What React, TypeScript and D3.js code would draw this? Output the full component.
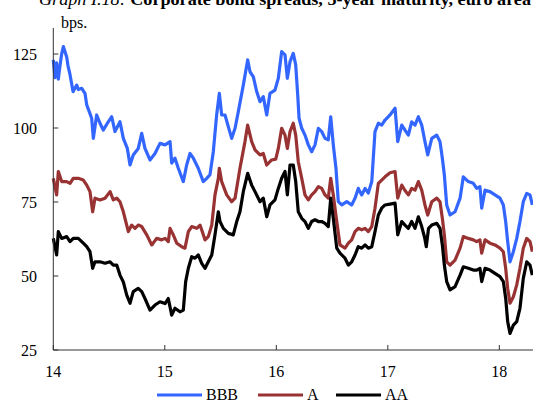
import React from 'react';
import * as d3 from 'd3';

const xTicks = [14, 15, 16, 17, 18];
const yTicks = [25, 50, 75, 100, 125];
const seriesNames = ['BBB', 'A', 'AA'];

const bbb: [number, number][] = [
  [14.0, 123], [14.015, 117], [14.03, 122], [14.045, 116.5], [14.06, 121], [14.075, 125], [14.09, 127.5],
  [14.12, 124], [14.132, 121], [14.15, 118], [14.177, 112.3], [14.21, 114.5], [14.224, 113], [14.255, 113.4],
  [14.284, 111.7], [14.3, 107.8], [14.344, 103.3], [14.359, 96.5], [14.389, 104.4], [14.419, 101.6],
  [14.448, 99.3], [14.493, 102.1], [14.524, 103.8], [14.553, 98.8], [14.598, 102.1], [14.628, 96.5],
  [14.664, 93.1], [14.688, 87.5], [14.717, 90.9], [14.762, 93.1], [14.793, 98.2], [14.822, 93.1],
  [14.867, 89.2], [14.912, 91.4], [14.957, 94.8], [15.002, 94.3], [15.047, 95.4], [15.062, 88.1],
  [15.091, 89.8], [15.121, 86.4], [15.166, 81.9], [15.196, 87.5], [15.226, 91.4], [15.256, 89.8],
  [15.3, 86.4], [15.345, 81.9], [15.376, 83.0], [15.405, 84.2], [15.435, 92], [15.465, 104.4],
  [15.489, 111.7], [15.51, 104.4], [15.54, 104.4], [15.57, 100.4], [15.6, 96.5], [15.63, 99.9],
  [15.659, 105.5], [15.704, 114.5], [15.743, 123], [15.764, 119], [15.794, 117.3], [15.824, 112.3],
  [15.854, 108.9], [15.883, 110.6], [15.914, 104.4], [15.943, 111.7], [15.988, 112.8], [16.018, 116.8],
  [16.048, 125.8], [16.078, 124.7], [16.099, 116.8], [16.123, 122.4], [16.152, 125.2], [16.174, 121.3],
  [16.192, 111.1], [16.204, 103.3], [16.228, 99.9], [16.257, 97.6], [16.287, 94.3], [16.317, 92],
  [16.347, 94.3], [16.377, 99.9], [16.407, 98.8], [16.437, 96.5], [16.466, 96], [16.488, 103.8],
  [16.511, 94.3], [16.535, 86.4], [16.556, 75.1], [16.587, 74], [16.632, 75.1], [16.676, 74],
  [16.706, 76.3], [16.735, 79.6], [16.766, 77.4], [16.796, 79.6], [16.825, 78], [16.856, 81.9],
  [16.885, 98.8], [16.915, 101.6], [16.945, 101], [16.975, 102.7], [17.02, 104.4], [17.065, 106.7],
  [17.089, 95.4], [17.125, 101], [17.154, 99.3], [17.184, 97.6], [17.214, 102.1], [17.244, 101],
  [17.274, 103.8], [17.304, 101], [17.333, 95.4], [17.358, 90.9], [17.394, 96.5], [17.439, 97.6],
  [17.468, 95.4], [17.489, 89.8], [17.507, 84.1], [17.528, 74], [17.558, 70.6], [17.603, 71.7],
  [17.648, 76.3], [17.677, 83.5], [17.722, 81.9], [17.767, 81.3], [17.797, 79.6], [17.826, 80.2],
  [17.842, 72.9], [17.872, 79], [17.916, 78.5], [17.961, 77.4], [18.006, 76.3], [18.036, 74],
  [18.057, 68.4], [18.075, 61.6], [18.096, 54.8], [18.126, 58.2], [18.156, 62.7], [18.185, 68.4],
  [18.215, 75.1], [18.246, 77.9], [18.275, 77.4], [18.296, 74],
];

const singleA: [number, number][] = [
  [14.0, 83], [14.03, 77.4], [14.045, 85.3], [14.075, 81.9], [14.12, 81.9], [14.15, 81.3], [14.179, 83],
  [14.224, 83], [14.269, 82.4], [14.3, 80.7], [14.329, 78.5], [14.353, 71.7], [14.374, 76.3],
  [14.419, 75.7], [14.464, 76.3], [14.509, 78.5], [14.538, 75.7], [14.569, 76.3], [14.598, 75.1],
  [14.628, 71.7], [14.673, 65], [14.703, 67.2], [14.733, 66.1], [14.762, 67.2], [14.793, 66.7],
  [14.838, 63.9], [14.883, 60.5], [14.927, 62.7], [14.972, 62.2], [15.002, 62.7], [15.031, 61.6],
  [15.047, 66.1], [15.076, 63.9], [15.107, 61.1], [15.152, 59.9], [15.181, 59.4], [15.211, 65],
  [15.241, 66.7], [15.286, 66.1], [15.316, 67.2], [15.361, 62.2], [15.39, 63.3], [15.421, 67.2],
  [15.45, 77.4], [15.48, 83], [15.489, 86.4], [15.51, 81.9], [15.555, 77.4], [15.6, 75.1],
  [15.63, 76.3], [15.674, 86.4], [15.719, 95.4], [15.743, 101], [15.779, 95.4], [15.809, 92.6],
  [15.854, 90.9], [15.883, 91.4], [15.914, 87.5], [15.958, 89.2], [15.995, 89.5], [16.018, 93.1],
  [16.048, 99.9], [16.078, 97.6], [16.099, 93.1], [16.123, 98.8], [16.152, 101.6], [16.174, 97.6],
  [16.197, 88.6], [16.228, 83], [16.257, 77.4], [16.287, 75.7], [16.317, 77.4], [16.347, 78.5],
  [16.377, 80.2], [16.407, 79.6], [16.437, 77.4], [16.466, 76.3], [16.488, 83], [16.511, 77.4],
  [16.542, 68.4], [16.571, 60.5], [16.616, 59.4], [16.646, 61.1], [16.676, 62.2], [16.706, 65],
  [16.735, 66.1], [16.766, 65.6], [16.796, 66.1], [16.825, 65], [16.856, 66.7], [16.885, 72.9],
  [16.915, 81.3], [16.945, 82.4], [16.975, 83.5], [17.02, 84.9], [17.065, 85.3], [17.089, 76.3],
  [17.125, 80.7], [17.154, 78.9], [17.184, 77.4], [17.214, 79.6], [17.244, 79], [17.274, 81.9],
  [17.304, 79], [17.333, 74], [17.358, 70.6], [17.394, 75.1], [17.439, 76.3], [17.468, 75.1],
  [17.489, 69.5], [17.507, 63.9], [17.528, 54.8], [17.558, 53.7], [17.603, 55.4], [17.648, 59.4],
  [17.677, 63.3], [17.722, 62.7], [17.767, 62.2], [17.797, 61.6], [17.826, 62.2], [17.842, 57.7],
  [17.872, 62.2], [17.916, 61.1], [17.961, 60.5], [18.006, 59.4], [18.036, 58.2], [18.057, 52.6],
  [18.075, 45.8], [18.096, 40.8], [18.126, 43], [18.156, 47], [18.185, 52.6], [18.215, 59.4],
  [18.246, 62.7], [18.275, 61.6], [18.296, 58.2],
];

const doubleA: [number, number][] = [
  [14.0, 62.7], [14.03, 57.1], [14.045, 65], [14.075, 62.7], [14.12, 63.3], [14.15, 61.6], [14.179, 62.7],
  [14.224, 62.7], [14.269, 61.1], [14.3, 59.9], [14.329, 58.2], [14.353, 52.6], [14.374, 54.8],
  [14.419, 54.8], [14.464, 54.3], [14.509, 54.8], [14.538, 53.7], [14.569, 53.7], [14.598, 50.3],
  [14.628, 48], [14.658, 43.6], [14.688, 40.8], [14.717, 44.7], [14.762, 45.8], [14.793, 44.7],
  [14.822, 42.4], [14.867, 38.5], [14.912, 40.2], [14.957, 41.3], [15.002, 40.7], [15.031, 42.4],
  [15.062, 36.8], [15.091, 39.1], [15.136, 37.9], [15.166, 38.5], [15.187, 48.1], [15.211, 52.6],
  [15.241, 56.5], [15.271, 56], [15.3, 57.1], [15.331, 54.3], [15.361, 52.6], [15.39, 54.8],
  [15.421, 57.1], [15.45, 63.9], [15.48, 71.7], [15.495, 68.4], [15.525, 66.1], [15.57, 64.4],
  [15.614, 63.9], [15.645, 68.4], [15.674, 71.7], [15.704, 78.5], [15.743, 84.7], [15.779, 80.7],
  [15.809, 78.5], [15.854, 75.1], [15.883, 76.3], [15.914, 70.0], [15.943, 74], [15.988, 75.7],
  [16.018, 79.6], [16.048, 83], [16.078, 85.3], [16.099, 77.4], [16.123, 87.5], [16.152, 87.5],
  [16.174, 81.9], [16.197, 71.7], [16.228, 69.5], [16.257, 68.4], [16.287, 66.1], [16.317, 68.4],
  [16.347, 69], [16.377, 68.4], [16.407, 68.4], [16.437, 67.8], [16.466, 66.7], [16.488, 76.3],
  [16.511, 69.5], [16.542, 59.4], [16.571, 57.7], [16.616, 56], [16.646, 53.7], [16.676, 54.8],
  [16.706, 57.1], [16.735, 59.9], [16.766, 59.4], [16.796, 60.5], [16.825, 59.4], [16.856, 59.9],
  [16.885, 65], [16.915, 70.6], [16.945, 72.9], [16.975, 74], [17.02, 74.3], [17.065, 74.6],
  [17.089, 63.9], [17.125, 68.4], [17.154, 67.2], [17.184, 66.1], [17.214, 68.4], [17.244, 66.1],
  [17.274, 70.0], [17.304, 66.7], [17.33, 63], [17.345, 59.9], [17.365, 66.1], [17.394, 67.2],
  [17.439, 67.8], [17.468, 66.1], [17.489, 60.5], [17.507, 53.7], [17.528, 48.1], [17.558, 45.3],
  [17.603, 46.4], [17.648, 50.3], [17.677, 53.1], [17.722, 52.6], [17.767, 52], [17.797, 52],
  [17.826, 52.6], [17.842, 48.1], [17.872, 52.6], [17.916, 52], [17.961, 50.9], [18.006, 49.8],
  [18.036, 48.1], [18.057, 42.5], [18.075, 34.6], [18.096, 30.6], [18.126, 33.4], [18.156, 34.6],
  [18.185, 39.1], [18.215, 49.2], [18.246, 54.8], [18.275, 53.7], [18.296, 50.3],
];

const colors = ['#3366ff', '#993333', '#000000'];
const FONT = '"Liberation Serif", "Times New Roman", Times, "DejaVu Serif", "Noto Serif", serif';

export default function App() {
  const x = d3.scaleLinear().domain([14, 18.302]).range([53.3, 533]);
  const y = d3.scaleLinear().domain([25, 125]).range([350, 54]);
  const line = d3
    .line<[number, number]>()
    .x((d) => x(d[0]))
    .y((d) => y(d[1]));
  const data = [bbb, singleA, doubleA];
  const legendX = [157, 258, 336];
  const txt = { fontFamily: FONT, fill: '#000' };

  return (
    <svg
      width={533}
      height={403}
      style={{ position: 'absolute', left: 0, top: 0, background: '#fff', fontFamily: FONT }}
    >
      <text
        x={39}
        y={5}
        fontSize={16}
        style={txt}
        textLength={492}
        lengthAdjust="spacingAndGlyphs"
      >
        <tspan fontStyle="italic">Graph I.18: </tspan>
        <tspan fontWeight="bold">Corporate bond spreads, 5-year maturity, euro area</tspan>
      </text>
      <text x={61} y={28} fontSize={16} style={txt}>bps.</text>

      {data.map((d, i) => (
        <path
          key={seriesNames[i]}
          d={line(d) || ''}
          fill="none"
          stroke={colors[i]}
          strokeWidth={3.2}
          strokeLinejoin="round"
        />
      ))}

      <line x1={x(14)} x2={x(14)} y1={28} y2={350} stroke="#333" strokeWidth={1} />
      <line x1={x(14)} x2={533} y1={350} y2={350} stroke="#333" strokeWidth={1} />
      {yTicks.map((t) => (
        <g key={t}>
          <line x1={x(14)} x2={x(14) + 5} y1={y(t)} y2={y(t)} stroke="#333" />
          <text x={37} y={y(t)} dy="0.35em" textAnchor="end" fontSize={16} style={txt}>
            {t}
          </text>
        </g>
      ))}
      {xTicks.map((t) => (
        <g key={t}>
          <line x1={x(t)} x2={x(t)} y1={350} y2={345} stroke="#333" />
          <text x={x(t)} y={377} textAnchor="middle" fontSize={16} style={txt}>
            {t}
          </text>
        </g>
      ))}

      {seriesNames.map((n, i) => (
        <g key={n}>
          <line
            x1={legendX[i]}
            x2={legendX[i] + 45}
            y1={395}
            y2={395}
            stroke={colors[i]}
            strokeWidth={3}
          />
          <text x={legendX[i] + 49} y={400} fontSize={16} style={txt}>
            {n}
          </text>
        </g>
      ))}
    </svg>
  );
}
